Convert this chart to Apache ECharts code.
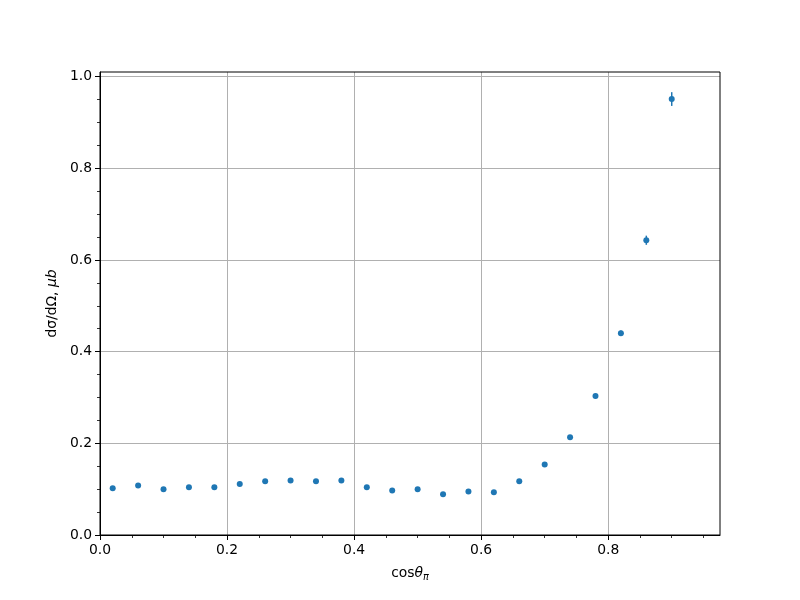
<!DOCTYPE html>
<html>
<head>
<meta charset="utf-8">
<script src="https://cdn.jsdelivr.net/npm/echarts@6/dist/echarts.min.js"></script>
<style>html,body{margin:0;padding:0;background:#fff}#c{width:800px;height:600px}</style>
</head>
<body>
<div id="c"></div>
<script>
// Data
var cosTheta = [0.02,0.06,0.10,0.14,0.18,0.22,0.26,0.30,0.34,0.38,0.42,0.46,0.50,0.54,0.58,0.62,0.66,0.70,0.74,0.78,0.82,0.86,0.90];
var dSigma   = [0.102,0.108,0.100,0.104,0.104,0.111,0.117,0.119,0.117,0.119,0.104,0.097,0.100,0.089,0.095,0.093,0.117,0.154,0.213,0.303,0.440,0.643,0.951];
var dSigmaErr= [0.003,0.003,0.003,0.003,0.003,0.003,0.003,0.003,0.003,0.003,0.003,0.003,0.003,0.003,0.003,0.003,0.003,0.004,0.004,0.005,0.006,0.010,0.015];
var xMajorTicks = [0, 0.2, 0.4, 0.6, 0.8];
var xMinorTicks = [0.05,0.1,0.15,0.25,0.3,0.35,0.45,0.5,0.55,0.65,0.7,0.75,0.85,0.9,0.95];
var yMajorTicks = [0, 0.2, 0.4, 0.6, 0.8, 1.0];
var yMinorTicks = [0.05,0.1,0.15,0.25,0.3,0.35,0.45,0.5,0.55,0.65,0.7,0.75,0.85,0.9,0.95];
var xLim = [0, 0.976];
var yLim = [0, 1.01];

var points = cosTheta.map(function (x, i) { return [x, dSigma[i]]; });
var bars = cosTheta.map(function (x, i) { return [x, dSigma[i] - dSigmaErr[i], dSigma[i] + dSigmaErr[i]]; });

var FONT = 'DejaVu Sans';
var FS = 13.9;
var blue = '#1f77b4';

var chart = echarts.init(document.getElementById('c'), null, {renderer: 'canvas'});
chart.setOption({
  animation: false,
  backgroundColor: '#fff',
  grid: {left: 100, right: 80, top: 72, bottom: 65, show: true, borderColor: '#000', borderWidth: 1, backgroundColor: 'transparent', z: 5},
  xAxis: [{
    type: 'value', min: xLim[0], max: xLim[1],
    interval: 0.2,
    axisLine: {onZero: false, lineStyle: {color: '#000', width: 1}},
    axisTick: {show: true, length: 5, customValues: xMajorTicks, lineStyle: {color: '#000', width: 1}},
    axisLabel: {customValues: xMajorTicks, margin: 8, color: '#000', fontFamily: FONT, fontSize: FS,
      formatter: function (v) { return v.toFixed(1); }},
    splitLine: {show: true, lineStyle: {color: '#b0b0b0', width: 1}},
    name: '{n|cos}{t|θ}{s|π}',
    nameLocation: 'middle', nameGap: 29,
    nameTextStyle: {color: '#000', fontFamily: FONT, fontSize: FS,
      rich: {
        n: {fontFamily: FONT, fontSize: FS, color: '#000'},
        t: {fontFamily: FONT, fontSize: FS, fontStyle: 'italic', color: '#000'},
        s: {fontFamily: FONT, fontSize: 9.7, fontStyle: 'italic', color: '#000', padding: [8, 0, 0, 0]}
      }}
  }, {
    type: 'value', min: xLim[0], max: xLim[1], position: 'bottom',
    axisLine: {show: false},
    axisTick: {show: true, length: 3, customValues: xMinorTicks, lineStyle: {color: '#000', width: 0.8}},
    axisLabel: {show: false},
    splitLine: {show: false}
  }],
  yAxis: [{
    type: 'value', min: yLim[0], max: yLim[1],
    interval: 0.2,
    axisLine: {onZero: false, lineStyle: {color: '#000', width: 1}},
    axisTick: {show: true, length: 5, customValues: yMajorTicks, lineStyle: {color: '#000', width: 1}},
    axisLabel: {customValues: yMajorTicks, margin: 8, color: '#000', fontFamily: FONT, fontSize: FS,
      formatter: function (v) { return v.toFixed(1); }},
    splitLine: {show: true, lineStyle: {color: '#b0b0b0', width: 1}},
    name: '{n|dσ/dΩ, }{i|μb}',
    nameLocation: 'middle', nameGap: 40, nameRotate: 90,
    nameTextStyle: {color: '#000', fontFamily: FONT, fontSize: FS,
      rich: {
        n: {fontFamily: FONT, fontSize: FS, color: '#000'},
        i: {fontFamily: FONT, fontSize: FS, fontStyle: 'italic', color: '#000'}
      }}
  }, {
    type: 'value', min: yLim[0], max: yLim[1], position: 'left',
    axisLine: {show: false},
    axisTick: {show: true, length: 3, customValues: yMinorTicks, lineStyle: {color: '#000', width: 0.8}},
    axisLabel: {show: false},
    splitLine: {show: false}
  }],
  series: [{
    type: 'custom',
    xAxisIndex: 0, yAxisIndex: 0,
    data: bars,
    encode: {x: 0, y: [1, 2]},
    renderItem: function (params, api) {
      var lo = api.coord([api.value(0), api.value(1)]);
      var hi = api.coord([api.value(0), api.value(2)]);
      return {type: 'line', shape: {x1: lo[0], y1: lo[1], x2: hi[0], y2: hi[1]},
        style: {stroke: blue, lineWidth: 1.5}};
    },
    z: 10
  }, {
    type: 'scatter',
    xAxisIndex: 0, yAxisIndex: 0,
    data: points,
    symbol: 'circle', symbolSize: 6,
    itemStyle: {color: blue, opacity: 1},
    z: 11
  }]
});
</script>
</body>
</html>
